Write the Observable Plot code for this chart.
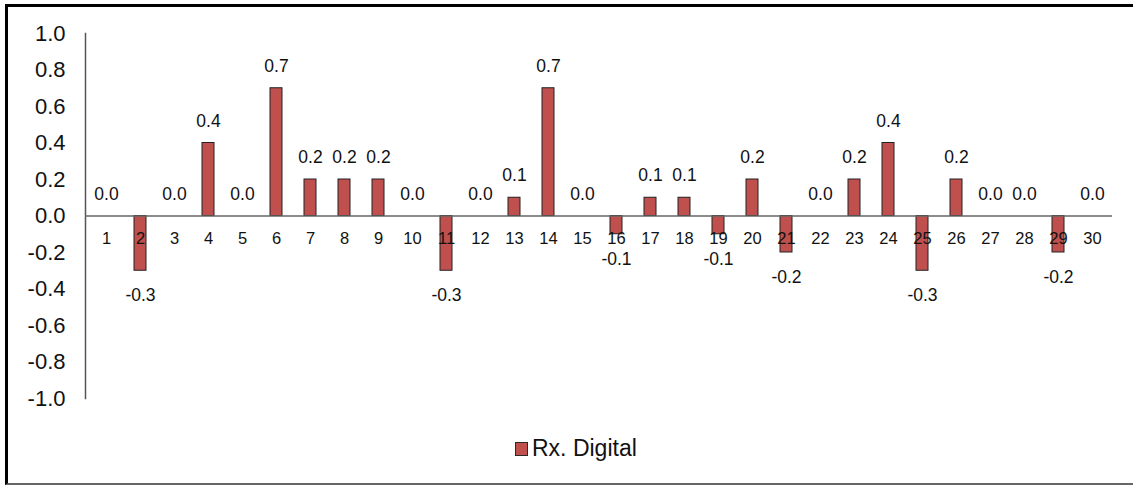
<!DOCTYPE html>
<html>
<head>
<meta charset="utf-8">
<script src="https://cdn.jsdelivr.net/npm/d3@7"></script>
<script src="https://cdn.jsdelivr.net/npm/@observablehq/plot@0.6"></script>
<style>
  html, body { margin: 0; padding: 0; background: #fff; }
  #wrap { position: relative; width: 1133px; height: 485px; overflow: hidden; font-family: "Liberation Sans", Arial, sans-serif; }
  #frame { position: absolute; left: 5px; top: 4px; width: 1140px; height: 476px; border-left: 3px solid #000; border-top: 3px solid #000; border-bottom: 2px solid #666; box-sizing: content-box; }
  #chart { position: absolute; left: 0; top: 0; }
  #legend { position: absolute; left: 515px; top: 435px; display: flex; align-items: center; font-size: 23px; color: #111; }
  #legend .sw { width: 11px; height: 12px; background: #C0504D; border: 1px solid #2a2a2a; margin-right: 4px; }
</style>
</head>
<body>
<div id="wrap">
  <div id="frame"></div>
  <div id="chart"></div>
  <div id="legend"><span class="sw"></span><span>Rx. Digital</span></div>
</div>
<script>
// Days of the month and the Rx. Digital change for each day
const days = d3.range(1, 31);
const values = [0.0, -0.3, 0.0, 0.4, 0.0, 0.7, 0.2, 0.2, 0.2, 0.0,
                -0.3, 0.0, 0.1, 0.7, 0.0, -0.1, 0.1, 0.1, -0.1, 0.2,
                -0.2, 0.0, 0.2, 0.4, -0.3, 0.2, 0.0, 0.0, -0.2, 0.0];
const yTicks = [-1.0, -0.8, -0.6, -0.4, -0.2, 0.0, 0.2, 0.4, 0.6, 0.8, 1.0];

const rows = days.map((d, i) => ({day: d, value: values[i]}));
const fmt = v => (Math.abs(v) < 1e-9 ? 0 : v).toFixed(1);

const chart = Plot.plot({
  width: 1133,
  height: 420,
  marginLeft: 85,
  marginRight: 21,
  marginTop: 33,
  marginBottom: 22,
  style: {fontFamily: "'Liberation Sans', Arial, sans-serif", color: "#111", background: "transparent"},
  x: {type: "band", domain: days, paddingInner: 0.65, paddingOuter: 0, axis: null},
  y: {domain: [-1, 1]},
  marks: [
    Plot.axisY({ticks: yTicks, tickFormat: fmt, tickSize: 0, tickPadding: 20, fontSize: 22, label: null}),
    Plot.frame({anchor: "left", stroke: "#555", strokeWidth: 1.5}),
    Plot.barY(rows.filter(r => r.value !== 0), {x: "day", y: "value", fill: "#C0504D", stroke: "#222", strokeWidth: 1}),
    Plot.ruleY([0], {stroke: "#666", strokeWidth: 1.5}),
    Plot.text(rows, {x: "day", y: 0, text: d => String(d.day), dy: 23, fontSize: 16.5, fill: "#111"}),
    Plot.text(rows.filter(r => r.value >= 0), {x: "day", y: "value", text: d => fmt(d.value), dy: -22, fontSize: 17.5, fill: "#111"}),
    Plot.text(rows.filter(r => r.value < 0), {x: "day", y: "value", text: d => fmt(d.value), dy: 25, fontSize: 17.5, fill: "#111"})
  ]
});
document.getElementById("chart").appendChild(chart);
</script>
</body>
</html>
